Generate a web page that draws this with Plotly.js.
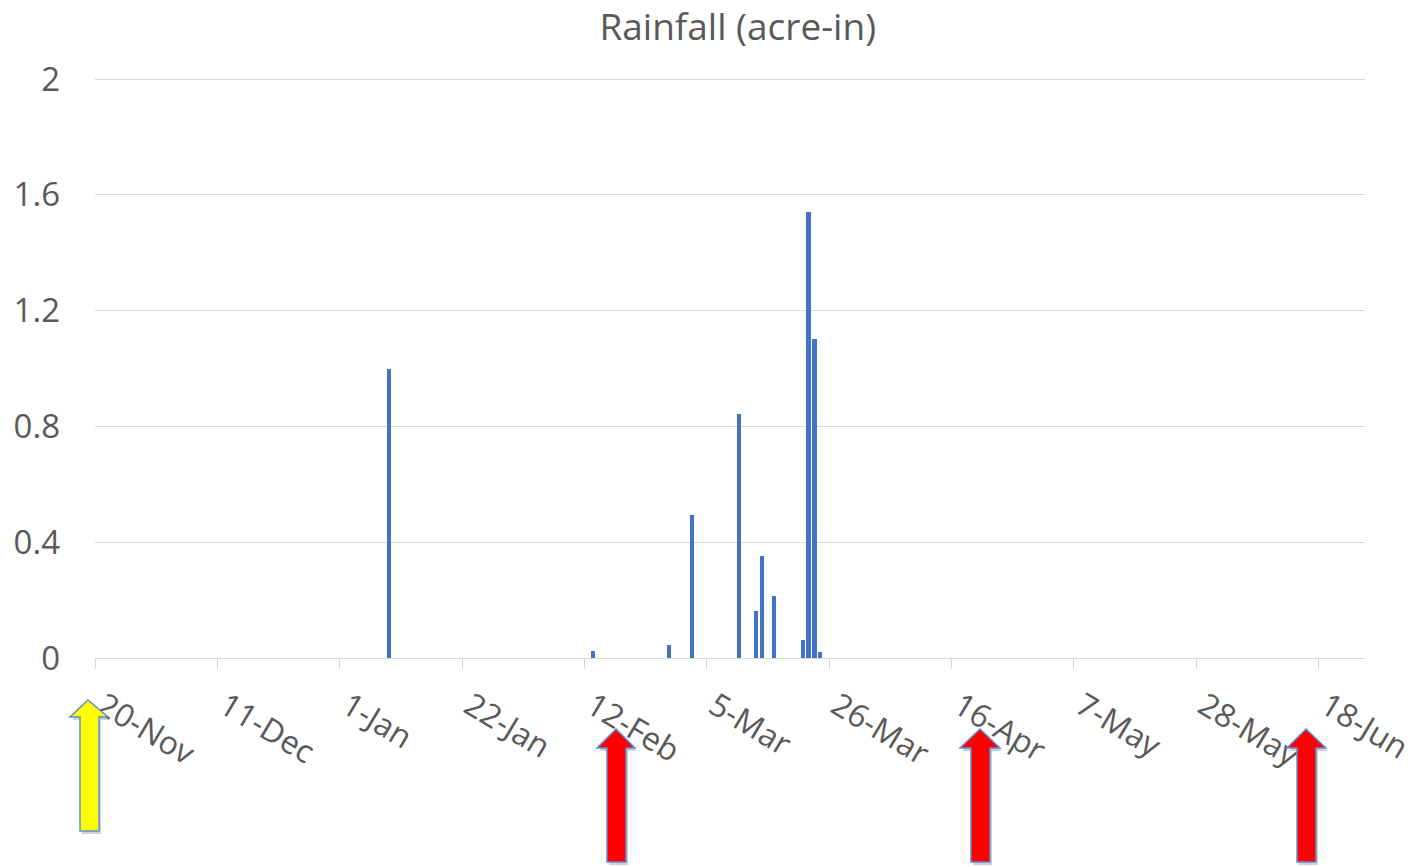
<!DOCTYPE html>
<html>
<head>
<meta charset="utf-8">
<script src="https://cdn.plot.ly/plotly-3.0.1.min.js"></script>
<style>
  html, body { margin: 0; padding: 0; background: #ffffff; }
  #chart { width: 1416px; height: 867px; }
</style>
</head>
<body>
<div id="chart"></div>
<script>
// ---- Data ----
const rainDates = ['2019-01-09', '2019-02-13', '2019-02-26', '2019-03-02', '2019-03-10', '2019-03-13',
                   '2019-03-14', '2019-03-16', '2019-03-21', '2019-03-22', '2019-03-23', '2019-03-24'];
const rainfall  = [1.00, 0.024, 0.045, 0.494, 0.843, 0.163, 0.353, 0.214, 0.062, 1.542, 1.103, 0.022];
const chartTitle = 'Rainfall (acre-in)';
const yTickVals = [0, 0.4, 0.8, 1.2, 1.6, 2];
const yTickText = ['0', '0.4', '0.8', '1.2', '1.6', '2'];
const xStart = '2018-11-20';
const xEnd = '2019-06-26';
const yMin = 0, yMax = 2.007;

// ---- Layout helpers (pixel -> paper) ----
const W = 1416, H = 867;
const M = { l: 95, r: 51, t: 77, b: 209 };
const PW = W - M.l - M.r, PH = H - M.t - M.b;
const px = x => (x - M.l) / PW;
const py = y => (H - M.b - y) / PH;

function blockArrow(tipX, tipY, headL, headR, headBase, shaftL, shaftR, bottom, fill) {
  const pts = [[tipX, tipY], [headR, headBase], [shaftR, headBase], [shaftR, bottom],
               [shaftL, bottom], [shaftL, headBase], [headL, headBase]];
  const path = 'M ' + pts.map(p => px(p[0]).toFixed(5) + ',' + py(p[1]).toFixed(5)).join(' L ') + ' Z';
  const shadowPts = pts.map(p => [p[0] + 2, p[1] + 3]);
  const spath = 'M ' + shadowPts.map(p => px(p[0]).toFixed(5) + ',' + py(p[1]).toFixed(5)).join(' L ') + ' Z';
  return [
    { type: 'path', xref: 'paper', yref: 'paper', path: spath, fillcolor: 'rgba(0,0,0,0.18)',
      line: { width: 0 }, layer: 'above' },
    { type: 'path', xref: 'paper', yref: 'paper', path: path, fillcolor: fill,
      line: { color: '#5b8fd6', width: 1.5 }, layer: 'above' }
  ];
}

const shapes = [].concat(
  blockArrow(88, 700, 70, 108, 717, 80, 99, 831, '#ffff00'),
  blockArrow(616, 729, 597, 635, 748, 607, 626, 862, '#ff0000'),
  blockArrow(980, 729, 960, 1000, 748, 971, 990, 862, '#ff0000'),
  blockArrow(1306, 729, 1287, 1326, 748, 1297, 1316, 862, '#ff0000')
);

const fontFam = '"Open Sans", "Noto Sans", sans-serif';

const trace = {
  type: 'bar',
  x: rainDates,
  y: rainfall,
  xperiod: 86400000,
  xperiodalignment: 'middle',
  width: 0.75 * 86400000,
  marker: { color: '#4472c4', line: { width: 0 } },
  hoverinfo: 'x+y'
};

const layout = {
  width: W, height: H,
  margin: M,
  paper_bgcolor: '#ffffff',
  plot_bgcolor: '#ffffff',
  showlegend: false,
  font: { family: fontFam, color: '#595959' },
  title: {
    text: chartTitle,
    font: { family: fontFam, size: 37, color: '#595959' },
    xref: 'container', x: 0.521, xanchor: 'center',
    yref: 'container', y: 1 - 27 / H, yanchor: 'middle'
  },
  xaxis: {
    type: 'date',
    range: [xStart, xEnd],
    tick0: xStart,
    dtick: 21 * 86400000,
    tickformat: '%-d-%b',
    tickangle: 31,
    ticks: 'outside',
    ticklen: 10,
    tickcolor: '#d9d9d9',
    tickwidth: 1,
    showline: true,
    linecolor: '#d9d9d9',
    linewidth: 1,
    showgrid: false,
    zeroline: false,
    ticklabelshift: 8,
    ticklabelstandoff: 6,
    ticklabeloverflow: 'allow',
    tickfont: { family: fontFam, size: 32, color: '#595959' }
  },
  yaxis: {
    range: [yMin, yMax],
    tickvals: yTickVals,
    ticktext: yTickText,
    showgrid: true,
    gridcolor: '#d9d9d9',
    gridwidth: 1,
    zeroline: false,
    showline: false,
    ticks: '',
    ticklabelstandoff: 34,
    tickfont: { family: fontFam, size: 33, color: '#595959' }
  },
  bargap: 0,
  shapes: shapes
};

Plotly.newPlot('chart', [trace], layout, { displayModeBar: false, staticPlot: true });
</script>
</body>
</html>
